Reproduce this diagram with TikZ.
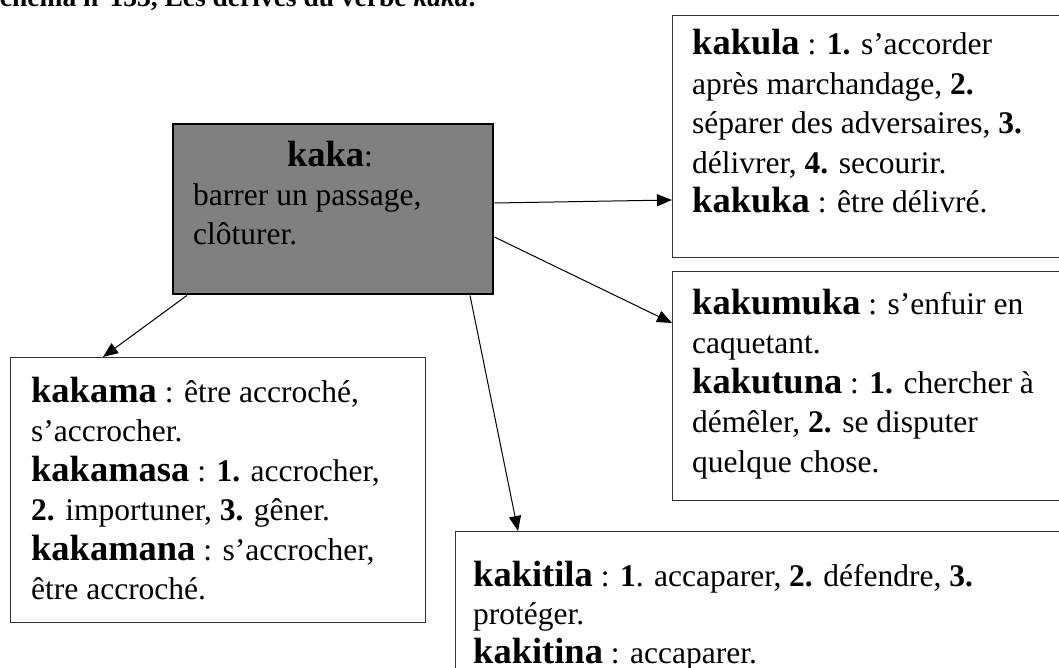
\documentclass[tikz,border=0pt]{standalone}
\usepackage{fontspec}
\setmainfont{Liberation Serif}
\usetikzlibrary{arrows.meta}
\newcommand\hw[1]{{\fontsize{36.5}{40}\selectfont\bfseries #1}}
\tikzset{
  box/.style={draw=black!80, line width=1.3pt, fill=white, anchor=north west, inner sep=0pt},
  centerbox/.style={draw=black, line width=2.4pt, fill=black!50, anchor=north west, inner sep=0pt},
  txt/.style={anchor=base west, inner sep=0pt, font=\fontsize{31.5}{39.5}\selectfont},
  arr/.style={line width=1pt, -{Triangle[length=15pt,width=12pt]}},
}
\begin{document}
\begin{tikzpicture}[x=1pt,y=-1pt]
\useasboundingbox (0,0) rectangle (1059,668);
\clip (0,0) rectangle (1059,668);
% title (cut at the top edge)
\node[anchor=base west, inner sep=0pt, font=\bfseries\fontsize{27.5}{30}\selectfont] (title) at (-15.5,7) {Schéma n°133, Les dérivés du verbe \textit{kaka}.};
% boxes
\node[centerbox, minimum width=320pt, minimum height=170pt] (kaka) at (172,123) {};
\node[box, minimum width=420pt, minimum height=242pt] (kakula) at (672,15) {};
\node[box, minimum width=420pt, minimum height=229pt] (kakumuka) at (672,271) {};
\node[box, minimum width=415pt, minimum height=265pt] (kakama) at (10,357) {};
\node[box, minimum width=640pt, minimum height=200pt] (kakitila) at (455,531) {};
% central text
\node[anchor=base, inner sep=0pt, font=\fontsize{31.5}{39.5}\selectfont] (t0) at (330,167) {\hw{kaka}:};
\node[txt] (t1) at (193,206) {barrer un passage,};
\node[txt] (t2) at (193,244) {clôturer.};
% kakula
\node[txt] (a1) at (692,55) {\hw{kakula} : \textbf{1.} s’accorder};
\node[txt] (a2) at (692,94.5) {après marchandage, \textbf{2.}};
\node[txt] (a3) at (692,134) {séparer des adversaires, \textbf{3.}};
\node[txt] (a4) at (692,173.5) {délivrer, \textbf{4.} secourir.};
\node[txt] (a5) at (692,213) {\hw{kakuka} : être délivré.};
% kakumuka
\node[txt] (b1) at (692,314) {\hw{kakumuka} : s’enfuir en};
\node[txt] (b2) at (692,353.5) {caquetant.};
\node[txt] (b3) at (692,393) {\hw{kakutuna} : \textbf{1.} chercher à};
\node[txt] (b4) at (692,432.5) {démêler, \textbf{2.} se disputer};
\node[txt] (b5) at (692,472) {quelque chose.};
% kakama
\node[txt] (c1) at (31,402) {\hw{kakama} : être accroché,};
\node[txt] (c2) at (31,441.5) {s’accrocher.};
\node[txt] (c3) at (31,481) {\hw{kakamasa} : \textbf{1.} accrocher,};
\node[txt] (c4) at (31,520.5) {\textbf{2.} importuner, \textbf{3.} gêner.};
\node[txt] (c5) at (31,560) {\hw{kakamana} : s’accrocher,};
\node[txt] (c6) at (31,599.5) {être accroché.};
% kakitila
\node[txt] (d1) at (473,586) {\hw{kakitila} : \textbf{1}. accaparer, \textbf{2.} défendre, \textbf{3.}};
\node[txt] (d2) at (473,624.5) {protéger.};
\node[txt] (d3) at (473,663) {\hw{kakitina} : accaparer.};
% connectors
\draw[arr] ([yshift=-80pt]kaka.north east) -- ([yshift=-185pt]kakula.north west);
\draw[arr] ([yshift=-114pt]kaka.north east) -- ([yshift=-52pt]kakumuka.north west);
\draw[arr] ([xshift=15pt]kaka.south west) -- ([xshift=93pt]kakama.north west);
\draw[arr] ([xshift=298pt]kaka.south west) -- ([xshift=63pt]kakitila.north west);
\end{tikzpicture}
\end{document}
